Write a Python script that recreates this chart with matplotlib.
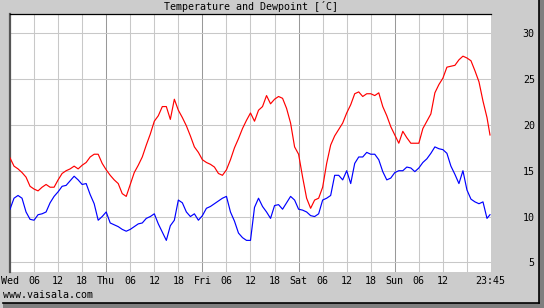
import numpy as np
import matplotlib
matplotlib.use('Agg')
import matplotlib.pyplot as plt
from matplotlib.patches import Rectangle

# hourly readings, Wed 00:00 .. Sun 23:00, plus the last one at 23:45
hours = np.append(np.arange(120), 119.75)

temperature = [
    16.4, 15.5, 15.2, 14.8, 14.3, 13.3, 13.0, 12.8, 13.2, 13.5, 13.2, 13.2,
    14.0, 14.7, 15.0, 15.2, 15.5, 15.2, 15.6, 15.9, 16.5, 16.8, 16.8, 15.8,
    15.1, 14.5, 14.0, 13.6, 12.5, 12.2, 13.5, 14.8, 15.6, 16.5, 17.8, 19.0,
    20.4, 21.0, 22.0, 22.0, 20.6, 22.8, 21.6, 20.8, 19.9, 18.8, 17.6, 17.0,
    16.2, 15.9, 15.7, 15.4, 14.7, 14.5, 15.1, 16.2, 17.5, 18.5, 19.6, 20.5,
    21.3, 20.4, 21.6, 22.0, 23.2, 22.3, 22.8, 23.1, 22.9, 21.8, 20.2, 17.6,
    16.8, 14.3, 12.0, 10.9, 11.8, 12.0, 13.2, 15.8, 17.8, 18.8, 19.5, 20.2,
    21.3, 22.2, 23.4, 23.6, 23.1, 23.4, 23.4, 23.2, 23.5, 22.0, 21.0, 19.8,
    18.9, 18.0, 19.3, 18.6, 18.0, 18.0, 18.0, 19.6, 20.4, 21.2, 23.5, 24.4,
    25.1, 26.3, 26.4, 26.5, 27.1, 27.5, 27.3, 27.0, 25.9, 24.7, 22.6, 20.8,
    18.9,
]

dewpoint = [
    10.8, 12.0, 12.3, 12.0, 10.5, 9.7, 9.6, 10.2, 10.3, 10.5, 11.5, 12.2,
    12.7, 13.3, 13.4, 13.9, 14.4, 14.0, 13.5, 13.6, 12.4, 11.4, 9.6, 10.0,
    10.5, 9.3, 9.1, 8.9, 8.6, 8.4, 8.6, 8.9, 9.2, 9.3, 9.8, 10.0,
    10.3, 9.2, 8.3, 7.4, 9.0, 9.6, 11.8, 11.5, 10.5, 10.0, 10.3, 9.6,
    10.1, 10.9, 11.1, 11.4, 11.7, 12.0, 12.2, 10.5, 9.5, 8.2, 7.7, 7.4,
    7.4, 11.0, 12.0, 11.1, 10.5, 9.8, 11.2, 11.3, 10.8, 11.5, 12.2, 11.8,
    10.8, 10.7, 10.5, 10.1, 10.0, 10.3, 11.8, 12.0, 12.3, 14.5, 14.5, 14.0,
    15.0, 13.6, 15.8, 16.5, 16.5, 17.0, 16.8, 16.8, 16.2, 14.9, 14.0, 14.2,
    14.8, 15.0, 15.0, 15.4, 15.3, 14.9, 15.3, 15.9, 16.3, 16.9, 17.6, 17.4,
    17.3, 16.9, 15.5, 14.6, 13.6, 15.0, 12.9, 11.9, 11.6, 11.4, 11.6, 9.8,
    10.2,
]

x_ticks = [0, 6, 12, 18, 24, 30, 36, 42, 48, 54, 60, 66, 72, 78, 84, 90, 96, 102, 108, 119.75]
x_labels = ['Wed', '06', '12', '18', 'Thu', '06', '12', '18', 'Fri', '06', '12', '18',
            'Sat', '06', '12', '18', 'Sun', '06', '12', '23:45']
y_ticks = [5, 10, 15, 20, 25, 30]

mono = 'DejaVu Sans Mono'
W, H = 544, 308

fig = plt.figure(figsize=(W / 100, H / 100), dpi=100, facecolor='#cccccc')
ax = fig.add_axes([10 / W, 36 / H, 481 / W, 258 / H])
ax.set_facecolor('white')

# grid: light every 6 h and every 5 degrees, darker at midnight
for h in range(6, 120, 6):
    c = '#999999' if h % 24 == 0 else '#c8c8c8'
    ax.axvline(h, color=c, lw=0.75, zorder=1)
for v in y_ticks:
    ax.axhline(v, color='#c8c8c8', lw=0.75, zorder=1)

ax.plot(hours, temperature, color='#ff0000', lw=0.85, zorder=3)
ax.plot(hours, dewpoint, color='#0000ff', lw=0.85, zorder=3)

ax.set_xlim(0, 120)
ax.set_ylim(3.95, 32.1)

ax.set_xticks(x_ticks)
ax.set_xticklabels(x_labels, family=mono, fontsize=7.2)
ax.tick_params(axis='x', length=0, pad=3)

ax.yaxis.tick_right()
ax.set_yticks(y_ticks)
ax.set_yticklabels([str(v) for v in y_ticks], family=mono, fontsize=7.2, ha='right')
ax.tick_params(axis='y', length=0, pad=31.5)

for s in ['right', 'bottom']:
    ax.spines[s].set_visible(False)
ax.spines['left'].set_color('#555555')
ax.spines['left'].set_linewidth(1.6)
ax.spines['top'].set_color('black')
ax.spines['top'].set_linewidth(0.9)

fig.text(250.5 / W, 1 - 7 / H, "Temperature and Dewpoint [´C]", ha='center', va='center',
         family=mono, fontsize=7.2)
fig.text(3 / W, 1 - 295.5 / H, 'www.vaisala.com', ha='left', va='center',
         family=mono, fontsize=7.2)

# shadow frame on the right and bottom
fig.add_artist(Rectangle((539 / W, 0), 5 / W, 1, transform=fig.transFigure,
                         facecolor='#7f7f7f', edgecolor='none'))
fig.add_artist(Rectangle((3 / W, 0), 541 / W, 5 / H, transform=fig.transFigure,
                         facecolor='#7f7f7f', edgecolor='none'))
fig.add_artist(plt.Line2D([538.5 / W, 538.5 / W], [5 / H, 1], transform=fig.transFigure,
                          color='black', lw=1.2))
fig.add_artist(plt.Line2D([3 / W, 538.5 / W], [5.5 / H, 5.5 / H], transform=fig.transFigure,
                          color='black', lw=1.2))

fig.savefig('out.png', dpi=100, facecolor=fig.get_facecolor())
